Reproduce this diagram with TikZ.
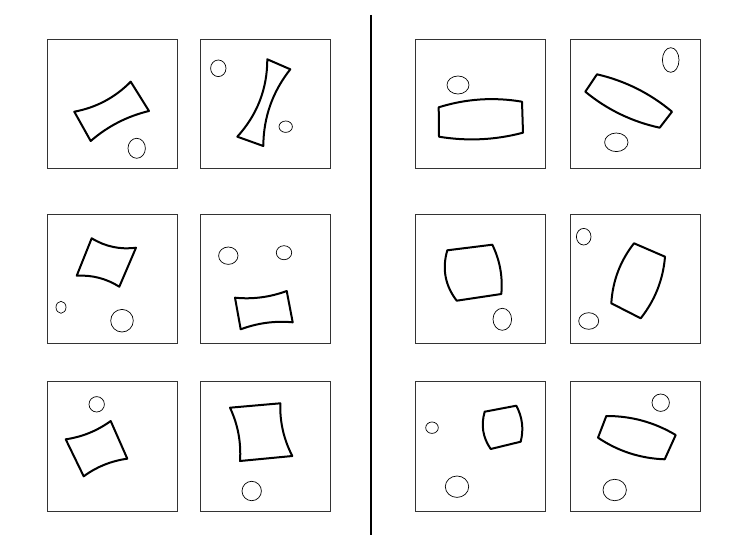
\documentclass[tikz,border=0pt]{standalone}
\usetikzlibrary{calc}
\tikzset{
  panel/.style={draw=black!80, line width=0.8pt},
  quadline/.style={draw=black, line width=2pt, line join=round},
  blob/.style={draw=black, line width=0.7pt},
  divider/.style={draw=black, line width=1.8pt}
}
% quadratic-like edge with midpoint sag s (positive = outward for clockwise order on screen)
\newcommand{\quadpiece}[8]{%
  \pgfmathsetmacro\sgA{#5*4/3}\pgfmathsetmacro\sgB{#6*4/3}%
  \pgfmathsetmacro\sgC{#7*4/3}\pgfmathsetmacro\sgD{#8*4/3}%
  \path (#1) coordinate (qa) (#2) coordinate (qb) (#3) coordinate (qc) (#4) coordinate (qd);
  \draw[quadline] (qa)
     .. controls ($(qa)!1/3!(qb)!\sgA pt!90:(qb)$) and ($(qa)!2/3!(qb)!\sgA pt!90:(qb)$) .. (qb)
     .. controls ($(qb)!1/3!(qc)!\sgB pt!90:(qc)$) and ($(qb)!2/3!(qc)!\sgB pt!90:(qc)$) .. (qc)
     .. controls ($(qc)!1/3!(qd)!\sgC pt!90:(qd)$) and ($(qc)!2/3!(qd)!\sgC pt!90:(qd)$) .. (qd)
     .. controls ($(qd)!1/3!(qa)!\sgD pt!90:(qa)$) and ($(qd)!2/3!(qa)!\sgD pt!90:(qa)$) .. (qa) -- cycle;}
\begin{document}
\begin{tikzpicture}[x=1pt,y=-1pt]
\fill[white] (0,0) rectangle (743,556);
\useasboundingbox (0,0) rectangle (743,556);

% panels
\foreach \px in {47,200,415,570}{
  \foreach \py/\ph in {39/129,214/129,381/130}{
    \draw[panel] (\px,\py) rectangle ++(130,\ph);
  }
}
% divider
\draw[divider] (371,15) -- (371,535);

% panel 1
\quadpiece{74.3,111.7}{130.7,81.7}{149,111}{90.7,141}{-5}{0}{-4}{0}
\draw[blob] (136.7,148.3) ellipse [x radius=8.7pt, y radius=10pt];
% panel 2
\quadpiece{267.3,59.3}{290.3,69.3}{263.3,146}{237.3,136.7}{0}{-7}{0}{-8}
\draw[blob] (218.3,68.3) ellipse [x radius=7.7pt, y radius=8.3pt];
\draw[blob] (285.7,126.7) ellipse [x radius=6.7pt, y radius=5.7pt];
% panel 3
\quadpiece{91.7,238.3}{136,247.7}{119.3,286.7}{76.7,275.7}{-4}{0}{-3.5}{0}
\draw[blob] (61,307.3) ellipse [x radius=5pt, y radius=6pt];
\draw[blob] (122,320.7) ellipse [x radius=11.3pt, y radius=11.3pt];
% panel 4
\quadpiece{235,297.7}{286.7,291}{292.7,322.3}{240.7,329.3}{-3}{0}{-3}{0}
\draw[blob] (228.3,255.7) ellipse [x radius=9.7pt, y radius=8.7pt];
\draw[blob] (284,252.7) ellipse [x radius=7.7pt, y radius=7pt];
% panel 5
\quadpiece{65.7,439.3}{110.7,421}{127.3,458.7}{83.7,476.3}{-3}{0}{-3}{0}
\draw[blob] (96.7,404.3) ellipse [x radius=7.7pt, y radius=7.7pt];
% panel 6
\quadpiece{230,407.7}{280.3,403.3}{292.3,456}{240,461}{0}{-3.5}{0}{-3.5}
\draw[blob] (251.7,491) ellipse [x radius=9.7pt, y radius=9.7pt];
% panel 7
\quadpiece{438.7,107.3}{522,101.7}{523,132.7}{439,136.7}{5}{0}{4.5}{0}
\draw[blob] (458,85) ellipse [x radius=11pt, y radius=9pt];
% panel 8
\quadpiece{597,74.3}{672,111.7}{659.7,127.7}{585.3,91.7}{5}{0}{5}{0}
\draw[blob] (670.7,60) ellipse [x radius=8.3pt, y radius=12.3pt];
\draw[blob] (616.3,142.3) ellipse [x radius=11.7pt, y radius=9.3pt];
% panel 9
\quadpiece{447.3,250.3}{492.3,244.7}{501.3,294}{456.7,300.7}{0}{3.5}{0}{6.5}
\draw[blob] (502.3,319.3) ellipse [x radius=9.3pt, y radius=11pt];
% panel 10
\quadpiece{634,243.3}{665,256.7}{640.7,318.3}{611.3,303.3}{0}{5}{0}{5}
\draw[blob] (583.7,236.7) ellipse [x radius=7.3pt, y radius=8.3pt];
\draw[blob] (588.7,321) ellipse [x radius=10pt, y radius=8.3pt];
% panel 11
\quadpiece{484.7,411.7}{516.3,405.7}{520.7,441.7}{490.7,449}{0}{3.5}{0}{4.5}
\draw[blob] (432,427.7) ellipse [x radius=6.3pt, y radius=5.7pt];
\draw[blob] (457,486.7) ellipse [x radius=11.7pt, y radius=10.7pt];
% panel 12
\quadpiece{606.3,416}{675.7,435}{664.7,459.3}{598,437.7}{5}{0}{5}{0}
\draw[blob] (660.7,402.7) ellipse [x radius=8.7pt, y radius=8.7pt];
\draw[blob] (614.7,490) ellipse [x radius=11.7pt, y radius=10.7pt];
\end{tikzpicture}
\end{document}
